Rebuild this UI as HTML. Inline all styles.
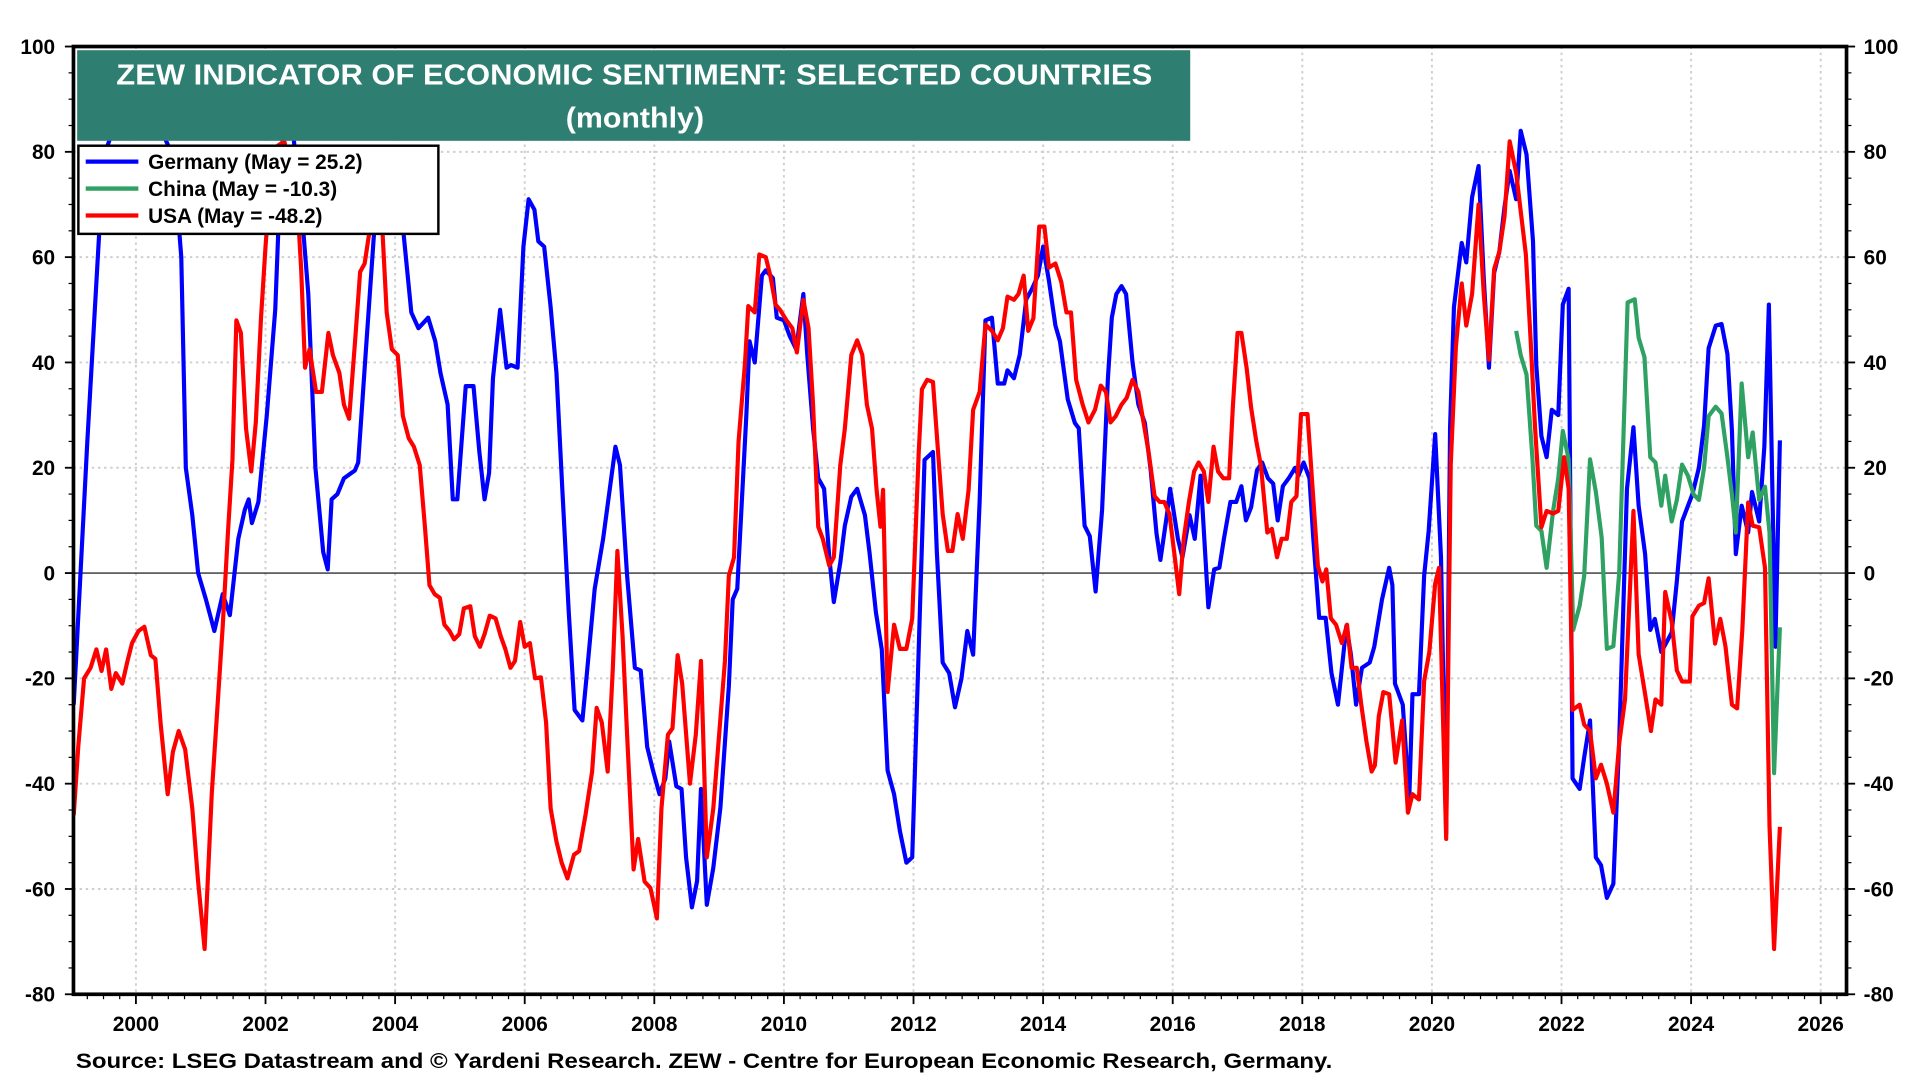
<!DOCTYPE html>
<html><head><meta charset="utf-8"><title>ZEW Indicator of Economic Sentiment</title>
<style>
html,body{margin:0;padding:0;background:#fff;}
svg{display:block;font-family:"Liberation Sans",Arial,sans-serif;}
</style></head>
<body>
<svg id="chart" width="1920" height="1080" viewBox="0 0 1568 882" xmlns="http://www.w3.org/2000/svg">
<defs><clipPath id="plotclip"><rect x="60" y="38" width="1448" height="774"/></clipPath></defs>
<rect x="0" y="0" width="1568" height="882" fill="#fff"/>
<g id="grid"></g>
<line x1="60" x2="1508" y1="468" y2="468" stroke="#000" stroke-width="1" id="zeroline"/>
<g id="series" clip-path="url(#plotclip)"></g>
<g id="axes"></g>
<rect x="60" y="38" width="1448" height="774" fill="none" stroke="#000" stroke-width="3"/>
<g>
<rect x="63" y="41" width="909" height="74" fill="#2f7e72"/>
<text x="95" y="69" fill="#fff" font-weight="bold" font-size="23.5" textLength="846" lengthAdjust="spacingAndGlyphs">ZEW INDICATOR OF ECONOMIC SENTIMENT: SELECTED COUNTRIES</text>
<text x="462" y="104" fill="#fff" font-weight="bold" font-size="23.5" textLength="113" lengthAdjust="spacingAndGlyphs">(monthly)</text>
</g>
<g>
<rect x="64" y="119" width="294" height="72" fill="#fff" stroke="#000" stroke-width="2"/>
<g><line x1="70" x2="113" y1="132" y2="132" stroke="#0000ff" stroke-width="3.5"/><text x="121" y="138" font-weight="bold" font-size="17">Germany (May = 25.2)</text></g>
<g><line x1="70" x2="113" y1="154" y2="154" stroke="#2fa162" stroke-width="3.5"/><text x="121" y="160" font-weight="bold" font-size="17">China (May = -10.3)</text></g>
<g><line x1="70" x2="113" y1="176" y2="176" stroke="#ff0000" stroke-width="3.5"/><text x="121" y="182" font-weight="bold" font-size="17">USA (May = -48.2)</text></g>
</g>
<text x="62" y="872" font-weight="bold" font-size="17" textLength="1026" lengthAdjust="spacingAndGlyphs">Source: LSEG Datastream and © Yardeni Research. ZEW - Centre for European Economic Research, Germany.</text>
</svg>
<script>
// ---- data ----
const yTicks = [100, 80, 60, 40, 20, 0, -20, -40, -60, -80];
const xTickYears = [2000, 2002, 2004, 2006, 2008, 2010, 2012, 2014, 2016, 2018, 2020, 2022, 2024, 2026];

const germanyDates = [1999.04,1999.25,1999.5,1999.7,2000.0,2000.32,2000.58,2000.7,2000.77,2000.87,2000.96,2001.08,2001.21,2001.34,2001.45,2001.58,2001.68,2001.74,2001.79,2001.89,2002.02,2002.15,2002.21,2002.28,2002.43,2002.57,2002.66,2002.77,2002.89,2002.96,2003.02,2003.11,2003.21,2003.38,2003.43,2003.55,2003.7,2003.79,2003.94,2004.13,2004.25,2004.36,2004.51,2004.62,2004.7,2004.81,2004.89,2004.96,2005.09,2005.21,2005.3,2005.38,2005.45,2005.51,2005.62,2005.72,2005.79,2005.89,2005.98,2006.06,2006.15,2006.21,2006.3,2006.4,2006.49,2006.58,2006.68,2006.77,2006.89,2006.96,2007.08,2007.21,2007.4,2007.47,2007.58,2007.7,2007.79,2007.89,2007.98,2008.08,2008.17,2008.23,2008.34,2008.42,2008.49,2008.58,2008.66,2008.72,2008.81,2008.91,2009.02,2009.15,2009.21,2009.28,2009.42,2009.47,2009.55,2009.66,2009.72,2009.83,2009.89,2010.0,2010.09,2010.19,2010.3,2010.36,2010.45,2010.53,2010.62,2010.7,2010.77,2010.87,2010.94,2011.04,2011.13,2011.25,2011.32,2011.42,2011.51,2011.6,2011.7,2011.79,2011.89,2011.98,2012.08,2012.17,2012.3,2012.36,2012.45,2012.55,2012.64,2012.74,2012.83,2012.92,2013.02,2013.11,2013.21,2013.3,2013.4,2013.45,2013.55,2013.64,2013.74,2013.83,2013.92,2014.0,2014.09,2014.19,2014.26,2014.38,2014.49,2014.55,2014.64,2014.72,2014.81,2014.91,2015.0,2015.06,2015.13,2015.21,2015.28,2015.38,2015.47,2015.57,2015.66,2015.75,2015.81,2015.91,2015.96,2016.08,2016.15,2016.26,2016.34,2016.43,2016.55,2016.64,2016.72,2016.79,2016.89,2016.98,2017.06,2017.13,2017.21,2017.3,2017.38,2017.47,2017.55,2017.62,2017.7,2017.79,2017.89,2017.94,2018.02,2018.11,2018.17,2018.26,2018.36,2018.45,2018.55,2018.62,2018.68,2018.75,2018.83,2018.92,2019.04,2019.11,2019.23,2019.34,2019.39,2019.43,2019.55,2019.65,2019.7,2019.8,2019.88,2019.95,2020.05,2020.14,2020.22,2020.28,2020.34,2020.46,2020.53,2020.62,2020.72,2020.8,2020.88,2020.96,2021.04,2021.12,2021.2,2021.3,2021.37,2021.46,2021.56,2021.61,2021.69,2021.77,2021.85,2021.95,2022.02,2022.11,2022.17,2022.28,2022.35,2022.44,2022.53,2022.61,2022.7,2022.8,2022.89,2023.01,2023.11,2023.19,2023.29,2023.37,2023.44,2023.54,2023.7,2023.78,2023.86,2024.02,2024.12,2024.2,2024.27,2024.38,2024.47,2024.56,2024.63,2024.69,2024.78,2024.88,2024.94,2025.05,2025.13,2025.2,2025.3,2025.37];
const germanyValues = [-25,25,79,86,87,86,79,60,20,11,0,-5,-11,-4,-8,6.5,12,14,9.5,13.5,30,50,69,86,83,67,53,20,4,0.7,14,15,18,19.5,21,42.5,69,74,76,64.5,49.5,46.5,48.5,44,38,32,14,14,35.5,35.5,23,14,19,37,50,39,39.5,39,62,71,69,63,62,50.5,38,16,-7.5,-26,-28,-19,-3,6.5,24,20.5,-0.5,-18,-18.5,-33,-37.5,-42,-39,-32,-40.5,-41,-54,-63.5,-58.5,-41,-63,-56,-44.5,-21.5,-5,-3,30,44,40,56.5,57.5,56,48.5,48,45,42.5,53,41.5,27.5,18,16,3,-5.5,2,9,14.5,16,11,4,-7.5,-14.5,-37.5,-42,-49,-55,-54,-14.5,21.5,23,4,-17,-19,-25.5,-20,-11,-15.5,13.5,48,48.5,36,36,38.5,37,41.5,52,54,56.5,62,55.5,47,44,33,28.5,27.5,9,7,-3.5,12,37,48.5,53,54.5,53,40,32,28.5,19.5,7.5,2.5,11,16,6.5,3,11,6.5,18.5,-6.5,0.7,1,6.5,13.5,13.5,16.5,10,12.5,19.5,21,18,17,10,16.5,18,20,18.5,21,18,6.5,-8.5,-8.5,-19,-25,-17,-10,-15.5,-25,-18,-17,-14,-5,1,-2.3,-21,-25,-43,-23,-23,-0.5,8,26.4,3,-49.5,27.7,50.5,62.7,59,71.4,77.3,56,39,57,61,69.5,76.4,71,84,79.5,63,39.6,26,22,31,30,51,54,-39,-41,-35,-28,-54,-55.5,-61.7,-59,-32,16,27.7,12.8,3.6,-10.8,-8.7,-15,-11.3,-1.5,9.8,15,20,28,42.7,47,47.3,41.6,27,3.6,12.8,7.7,15.4,9.8,24,51,-14,25.2];

const chinaDates = [2021.3,2021.37,2021.46,2021.55,2021.61,2021.69,2021.77,2021.87,2021.95,2022.02,2022.11,2022.18,2022.28,2022.35,2022.44,2022.53,2022.62,2022.7,2022.8,2022.89,2023.02,2023.13,2023.19,2023.28,2023.37,2023.45,2023.54,2023.6,2023.7,2023.78,2023.86,2023.95,2024.04,2024.12,2024.2,2024.27,2024.38,2024.47,2024.56,2024.63,2024.69,2024.78,2024.88,2024.95,2025.05,2025.14,2025.21,2025.28,2025.37];
const chinaValues = [46,41.4,37.7,22,9,8,1,11.8,18,27,21.6,-10.8,-6.2,-0.5,21.6,15.4,6.7,-14.4,-13.9,0,51.4,52,44.7,41,22,21,12.8,18.5,9.8,13.9,20.6,18.5,14.9,13.9,20,29.8,31.6,30.3,22,14.9,7.7,36,22,26.7,13.9,16.4,7.7,-38,-10.3];

const usaDates = [1999.04,1999.11,1999.2,1999.3,1999.39,1999.47,1999.54,1999.62,1999.69,1999.79,1999.87,1999.94,2000.04,2000.13,2000.23,2000.3,2000.38,2000.49,2000.57,2000.66,2000.76,2000.87,2000.96,2001.06,2001.17,2001.25,2001.34,2001.42,2001.49,2001.55,2001.62,2001.7,2001.78,2001.85,2001.93,2002.0,2002.08,2002.17,2002.29,2002.4,2002.49,2002.55,2002.61,2002.68,2002.78,2002.87,2002.97,2003.04,2003.14,2003.21,2003.29,2003.38,2003.46,2003.53,2003.63,2003.7,2003.8,2003.87,2003.95,2004.04,2004.12,2004.21,2004.29,2004.38,2004.46,2004.53,2004.61,2004.69,2004.76,2004.84,2004.91,2004.99,2005.06,2005.16,2005.23,2005.31,2005.38,2005.46,2005.55,2005.63,2005.7,2005.78,2005.85,2005.93,2006.0,2006.08,2006.16,2006.25,2006.33,2006.4,2006.49,2006.57,2006.66,2006.76,2006.84,2006.94,2007.04,2007.11,2007.19,2007.28,2007.36,2007.43,2007.51,2007.58,2007.68,2007.75,2007.85,2007.94,2008.04,2008.11,2008.21,2008.28,2008.36,2008.43,2008.55,2008.64,2008.72,2008.81,2008.91,2009.0,2009.09,2009.15,2009.23,2009.3,2009.4,2009.45,2009.55,2009.62,2009.72,2009.79,2009.87,2009.94,2010.04,2010.13,2010.2,2010.3,2010.38,2010.45,2010.53,2010.6,2010.7,2010.77,2010.87,2010.94,2011.04,2011.13,2011.21,2011.28,2011.36,2011.43,2011.49,2011.53,2011.6,2011.7,2011.79,2011.89,2011.98,2012.08,2012.13,2012.21,2012.3,2012.38,2012.45,2012.53,2012.6,2012.68,2012.76,2012.85,2012.92,2013.02,2013.11,2013.21,2013.3,2013.38,2013.45,2013.55,2013.62,2013.7,2013.77,2013.85,2013.94,2014.02,2014.09,2014.19,2014.28,2014.36,2014.43,2014.51,2014.61,2014.7,2014.8,2014.89,2014.97,2015.04,2015.12,2015.21,2015.29,2015.38,2015.47,2015.55,2015.63,2015.72,2015.8,2015.87,2015.95,2016.02,2016.1,2016.17,2016.25,2016.33,2016.4,2016.48,2016.55,2016.63,2016.7,2016.78,2016.87,2016.93,2017.0,2017.06,2017.14,2017.21,2017.29,2017.36,2017.46,2017.53,2017.61,2017.68,2017.76,2017.83,2017.91,2017.98,2018.08,2018.16,2018.24,2018.31,2018.37,2018.44,2018.52,2018.61,2018.69,2018.76,2018.84,2018.91,2018.99,2019.07,2019.12,2019.18,2019.25,2019.34,2019.44,2019.54,2019.63,2019.7,2019.8,2019.88,2019.96,2020.05,2020.11,2020.22,2020.29,2020.37,2020.46,2020.53,2020.62,2020.72,2020.8,2020.88,2020.96,2021.04,2021.12,2021.2,2021.3,2021.45,2021.52,2021.59,2021.69,2021.77,2021.87,2021.95,2022.04,2022.11,2022.17,2022.28,2022.35,2022.44,2022.53,2022.61,2022.7,2022.8,2022.89,2022.98,2023.11,2023.19,2023.29,2023.38,2023.45,2023.54,2023.6,2023.7,2023.78,2023.86,2023.98,2024.02,2024.12,2024.2,2024.27,2024.37,2024.45,2024.53,2024.63,2024.71,2024.79,2024.88,2024.95,2025.05,2025.14,2025.21,2025.28,2025.37];
const usaValues = [-46,-33,-20,-18,-14.5,-18.6,-14.5,-22,-19,-21,-16.7,-13.3,-11,-10.2,-15.6,-16.3,-28.4,-42,-34,-30,-33.5,-44.7,-58.6,-71.4,-42,-27,-10,7.7,21.6,48,45.6,27.4,19.3,28.6,48.4,62,75,81,82,76,70.5,57.7,39,42.5,34.4,34.4,45.6,41.4,38,32,29.3,43.7,57.2,58.8,67,71.6,66,49.5,42.5,41.4,29.8,25.6,24,20.5,8.8,-2.3,-4,-4.7,-9.8,-11,-12.6,-11.6,-6.7,-6.3,-12,-14,-11.6,-8.1,-8.6,-12,-14.4,-18,-16.7,-9.3,-14,-13.3,-20,-19.8,-28.4,-44.7,-51,-55,-58,-53.5,-52.8,-45.8,-37.7,-25.6,-28.4,-37.7,-18,4.2,-12,-30.7,-56.3,-50.5,-58.6,-59.8,-65.6,-44.7,-30.7,-29.5,-15.6,-21,-40,-30.7,-16.7,-54,-44.7,-30.7,-16.7,-0.5,3,25,40,50.7,49.5,60.5,60,56.5,51,50,48,46.5,41.9,51.9,46.5,32,8.8,6.5,1.4,3,20.5,27.4,41.4,44.2,41.4,32,27.4,15.8,8.8,15.8,-22.6,-9.8,-14.4,-14.4,-8.6,22.8,34.9,36.7,36.3,22.8,11.2,4.2,4.2,11.2,6.5,15.8,31,34.4,47.2,46,44.2,46.5,52.5,51.9,53,56.5,46,48.4,65.8,65.8,58,58.8,55.3,49.5,49.5,36.7,32,28.6,31,35.6,34.4,28.6,29.8,32,33.3,36.7,34.4,28.6,22.8,14.6,13.5,13.5,11.2,4.2,-4,6.5,13.5,19.3,21,19.3,13.5,24,19.3,18,18,32,45.6,45.6,39,31.4,25,20.5,7.7,8.4,3,6.5,6.5,13.5,14.6,30.2,30.2,15.8,1.4,-1.6,0.7,-8.6,-9.8,-13.3,-9.8,-18,-18,-25,-32,-37.7,-36.5,-27.2,-22.6,-23,-36,-28,-45.5,-42,-43,-20.5,-15,-2,1,-50.5,20.5,43,55,47,53,70,53,40.5,57.7,61,67.7,82,76,60.5,45,28,8.7,11.8,11.3,11.8,22,16,-26,-25,-28.8,-30,-39,-36.4,-40,-45.5,-32.4,-24,11.8,-15.4,-23,-30,-24,-25,-3.6,-9.2,-18.5,-20.6,-20.6,-8.2,-6.2,-5.7,-1,-13.4,-8.7,-13.9,-25,-25.7,-10.8,13.4,9,8.7,1,-48,-71.4,-48.2];

// ---- geometry ----
const PL = 60, PR = 1508, PT = 38, PB = 812;
const yMin = -80, yMax = 100, x2000 = 111, pxPerYear = 52.92;
function xScale(d){ return x2000 + (d - 2000) * pxPerYear; }
function yScale(v){ return PT + (yMax - v) / (yMax - yMin) * (PB - PT); }
const NS = 'http://www.w3.org/2000/svg';
function mk(tag, attrs, parent){ const e = document.createElementNS(NS, tag); for (const k in attrs) e.setAttribute(k, attrs[k]); parent.appendChild(e); return e; }

const grid = document.getElementById('grid');
const axes = document.getElementById('axes');

yTicks.forEach(v => {
  const y = yScale(v);
  if (v !== 0 && v !== yMax && v !== yMin) {
    const g = mk('line', {x1: PL, x2: PR, y1: y, y2: y, stroke: '#cfcfcf', 'stroke-width': 1.6, 'stroke-dasharray': '2,3'}, grid);
    
    
  }
  const tl = mk('line', {x1: PL - 7, x2: PL, y1: y, y2: y, stroke: '#000', 'stroke-width': 1.5}, axes);
  
  
  const tr = mk('line', {x1: PR, x2: PR + 7, y1: y, y2: y, stroke: '#000', 'stroke-width': 1.5}, axes);
  
  
  const l = mk('text', {x: 45, y: y + 6, 'text-anchor': 'end', 'font-size': 17, 'font-weight': 'bold'}, axes);
  l.textContent = v;
  
  
  const r = mk('text', {x: 1522, y: y + 6, 'text-anchor': 'start', 'font-size': 17, 'font-weight': 'bold'}, axes);
  r.textContent = v;
  
  
});
for (let v = yMin + 5; v < yMax; v += 5) {
  if (v % 20 === 0) continue;
  const y = yScale(v);
  const a = mk('line', {x1: PL - 4, x2: PL, y1: y, y2: y, stroke: '#000', 'stroke-width': 1}, axes);
  
  
  const b = mk('line', {x1: PR, x2: PR + 4, y1: y, y2: y, stroke: '#000', 'stroke-width': 1}, axes);
  
  
}
xTickYears.forEach(yr => {
  const x = xScale(yr);
  const g = mk('line', {x1: x, x2: x, y1: PT, y2: PB, stroke: '#cfcfcf', 'stroke-width': 1.6, 'stroke-dasharray': '2,3'}, grid);
  
  
  const t = mk('line', {x1: x, x2: x, y1: PB, y2: PB + 8, stroke: '#000', 'stroke-width': 1.5}, axes);
  
  
  const l = mk('text', {x: x, y: 842, 'text-anchor': 'middle', 'font-size': 17, 'font-weight': 'bold'}, axes);
  l.textContent = yr;
  
  
});
for (let q = 1999.25; q < 2026.3; q += 0.25) {
  if (Math.abs(q - Math.round(q)) < 1e-6 && Math.round(q) % 2 === 0) continue;
  const x = xScale(q);
  if (x < PL || x > PR) continue;
  const t = mk('line', {x1: x, x2: x, y1: PB, y2: PB + 4, stroke: '#000', 'stroke-width': 1}, axes);
  
  
}

const series = document.getElementById('series');
function drawLine(dates, values, color, name){
  let d = '';
  dates.forEach((dt, i) => { d += (i ? 'L' : 'M') + xScale(dt).toFixed(2) + ',' + yScale(values[i]).toFixed(2); });
  const p = mk('path', {d: d, fill: 'none', stroke: color, 'stroke-width': 3.4, 'stroke-linejoin': 'round'}, series);
  
  
}
drawLine(germanyDates, germanyValues, '#0000ff', 'germany-line');
drawLine(chinaDates, chinaValues, '#2fa162', 'china-line');
drawLine(usaDates, usaValues, '#ff0000', 'usa-line');
</script>
</body></html>
